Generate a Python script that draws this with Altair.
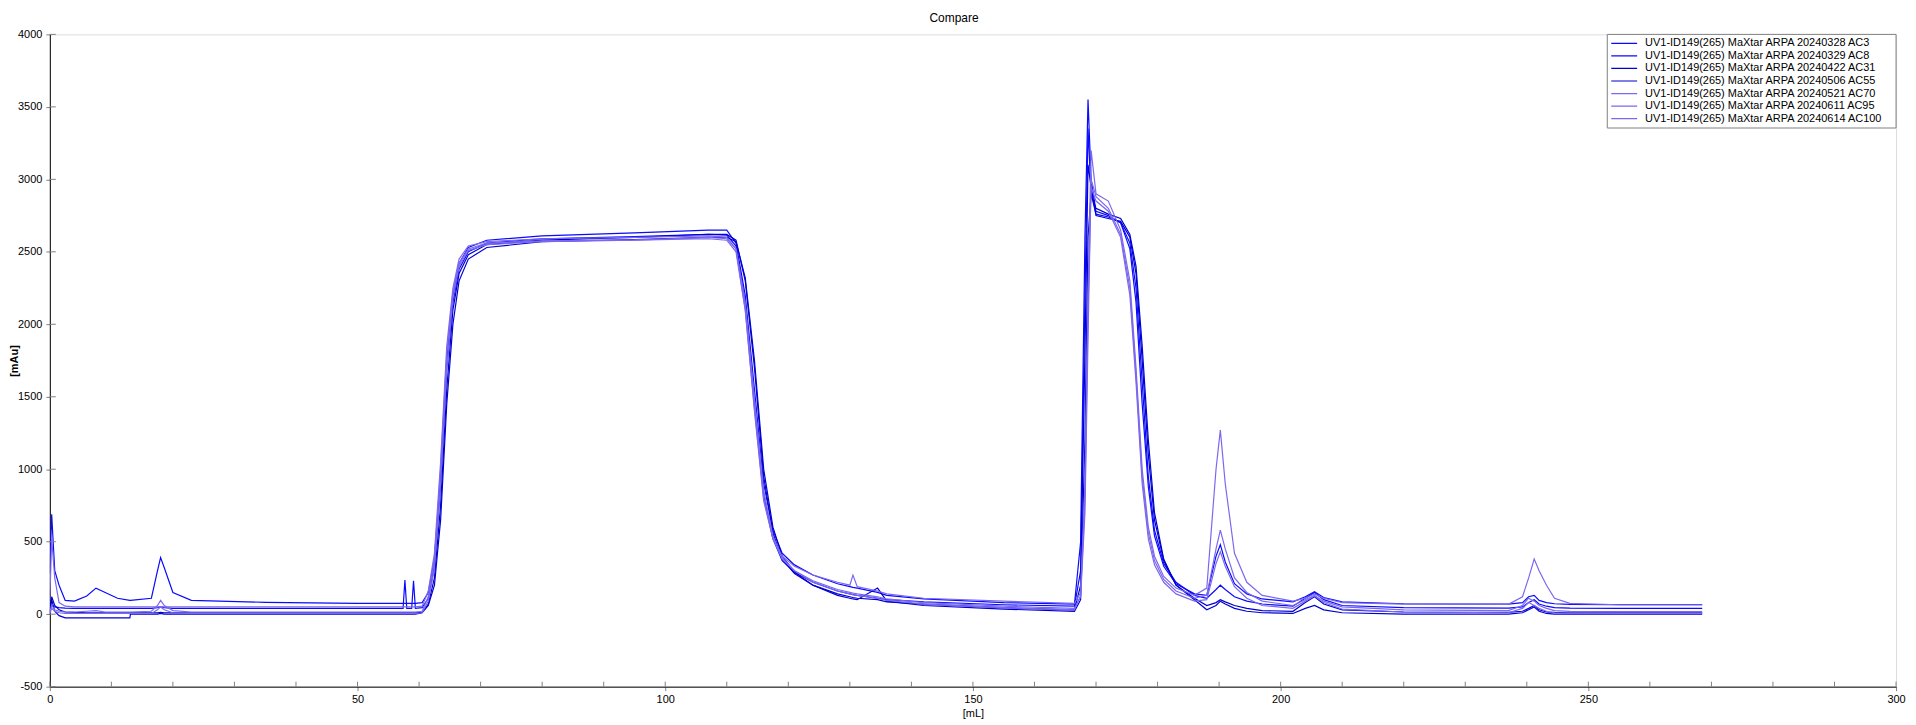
import altair as alt
import pandas as pd

TITLE = "Compare"
X_TITLE = "[mL]"
Y_TITLE = "[mAu]"
FONT = "Liberation Sans"

SERIES = [
    "UV1-ID149(265) MaXtar ARPA 20240328 AC3",
    "UV1-ID149(265) MaXtar ARPA 20240329 AC8",
    "UV1-ID149(265) MaXtar ARPA 20240422 AC31",
    "UV1-ID149(265) MaXtar ARPA 20240506 AC55",
    "UV1-ID149(265) MaXtar ARPA 20240521 AC70",
    "UV1-ID149(265) MaXtar ARPA 20240611 AC95",
    "UV1-ID149(265) MaXtar ARPA 20240614 AC100",
]
COLORS = ["#0a0aff", "#0a0aff", "#0000d0", "#0000d0", "#7b68ee", "#7b68ee", "#7b68ee"]

X_GRID = [
    0, 0.3, 0.8, 1.5, 2.5, 4, 6, 7.5, 9, 11,
    13, 13.1, 16.5, 17.5, 18, 18.6, 20, 23, 35, 50,
    57.4, 57.7, 58.0, 58.8, 59.1, 59.4, 60.5, 61.5, 62.5, 63.5,
    64.5, 65.5, 66.5, 68, 71, 80, 95, 107, 110, 111.5,
    113, 114.5, 116, 117.5, 119, 121, 124, 128, 130, 130.5,
    131.2, 134.5, 136, 142, 155, 166.5, 167.5, 168.2, 168.7, 169.2,
    170, 172, 174, 175.5, 176.5, 177.5, 178.5, 179.5, 181, 183,
    186, 188, 189.5, 190.2, 191, 192.5, 194.5, 197, 202, 204,
    205.5, 207, 210, 220, 237, 239.3, 240.3, 241.2, 242, 243.2,
    244.5, 247, 255, 268.5,
]

Y_AC3 = [
    280, 690, 300, 200, 95, 90, 125, 180, 150, 110,
    95, 95, 110, 300, 390, 320, 150, 95, 82, 75,
    75, 75, 75, 75, 75, 75, 80, 150, 380, 950,
    1750, 2200, 2420, 2530, 2580, 2610, 2630, 2650, 2650, 2560,
    2200, 1550, 900, 580, 420, 340, 270, 210, 190, 185,
    180, 150, 130, 105, 80, 70, 500, 2600, 3550, 3000,
    2780, 2750, 2700, 2520, 2150, 1450, 880, 540, 330, 210,
    140, 130, 400, 480, 360, 210, 140, 105, 85, 120,
    155, 115, 85, 72, 70, 80, 120, 130, 95, 80,
    72, 68, 66, 66,
]
Y_AC8 = [
    40, 60, 50, 45, 42, 40, 40, 40, 40, 40,
    40, 40, 40, 45, 50, 45, 40, 40, 40, 40,
    40, 235, 40, 40, 230, 40, 45, 110, 330, 900,
    1700, 2150, 2380, 2500, 2560, 2590, 2605, 2620, 2615, 2540,
    2150, 1450, 820, 520, 370, 290, 220, 160, 140, 135,
    130, 110, 100, 85, 65, 55, 300, 2200, 3350, 2900,
    2760, 2740, 2700, 2560, 2250, 1600, 950, 580, 350, 220,
    130, 110, 170, 200, 170, 120, 90, 70, 55, 110,
    150, 100, 60, 45, 42, 50, 80, 100, 70, 55,
    45, 42, 40, 40,
]
Y_AC31 = [
    10, 120, 60, 30, 15, 12, 10, 10, 10, 10,
    10, 10, 10, 10, 12, 10, 10, 10, 10, 10,
    10, 10, 10, 10, 10, 10, 12, 70, 250, 750,
    1550, 2100, 2350, 2480, 2550, 2580, 2600, 2620, 2620, 2580,
    2300, 1700, 950, 560, 380, 280, 200, 140, 120, 115,
    110, 100, 85, 70, 45, 30, 200, 1800, 3100, 2950,
    2750, 2730, 2710, 2600, 2350, 1750, 1100, 650, 370, 200,
    110, 60, 80, 100, 85, 60, 40, 25, 20, 80,
    120, 70, 30, 15, 12, 20, 40, 60, 30, 15,
    12, 10, 10, 10,
]
Y_AC55 = [
    0, 100, 20, -10, -25, -25, -25, -25, -25, -25,
    -25, 0, 0, 0, 5, 0, 0, 0, 0, 0,
    0, 0, 0, 0, 0, 0, 10, 60, 200, 650,
    1450, 2000, 2300, 2450, 2530, 2570, 2585, 2600, 2600, 2570,
    2320, 1750, 1000, 600, 400, 290, 200, 130, 110, 105,
    100, 180, 90, 60, 35, 20, 100, 1200, 2600, 2900,
    2800, 2760, 2730, 2620, 2400, 1850, 1200, 700, 380, 200,
    100, 30, 60, 90, 70, 40, 20, 10, 5, 40,
    60, 30, 10, 0, 0, 10, 30, 50, 20, 5,
    0, 0, 0, 0,
]
Y_AC70 = [
    100, 520, 250, 80, 55, 50, 50, 50, 50, 50,
    50, 50, 50, 50, 52, 50, 50, 50, 50, 50,
    50, 50, 50, 50, 50, 50, 55, 160, 420, 1050,
    1850, 2250, 2450, 2540, 2570, 2590, 2600, 2610, 2600, 2520,
    2100, 1400, 780, 520, 400, 330, 270, 220, 200, 270,
    190, 160, 140, 110, 90, 75, 150, 900, 2200, 3200,
    2900, 2850, 2650, 2300, 1700, 1000, 600, 400, 260, 180,
    130, 180, 1000, 1270, 900, 420, 220, 130, 90, 110,
    140, 110, 80, 70, 68, 120, 250, 380, 300, 200,
    110, 75, 65, 65,
]
Y_AC95 = [
    15, 60, 30, 20, 15, 15, 20, 25, 15, 15,
    15, 15, 20, 60, 95, 60, 25, 15, 15, 15,
    15, 15, 15, 15, 15, 15, 20, 120, 380, 1000,
    1800, 2220, 2420, 2520, 2560, 2575, 2580, 2590, 2580, 2500,
    2100, 1420, 800, 520, 380, 300, 230, 170, 150, 145,
    140, 120, 105, 80, 55, 40, 120, 700, 1900, 3000,
    2880, 2800, 2620, 2250, 1650, 950, 560, 370, 240, 160,
    110, 130, 450, 580, 450, 250, 150, 90, 60, 100,
    130, 90, 50, 30, 25, 60, 110, 90, 60, 40,
    25, 20, 18, 18,
]
Y_AC100 = [
    5, 40, 20, 10, 5, 5, 5, 5, 5, 5,
    5, 5, 5, 30, 50, 30, 10, 5, 5, 5,
    5, 5, 5, 5, 5, 5, 10, 90, 320, 900,
    1700, 2180, 2400, 2510, 2550, 2570, 2580, 2600, 2590, 2520,
    2150, 1480, 850, 540, 390, 300, 220, 160, 140, 135,
    130, 110, 95, 70, 45, 30, 130, 800, 2100, 2950,
    2850, 2780, 2600, 2200, 1600, 900, 520, 340, 220, 140,
    90, 100, 350, 430, 330, 190, 110, 60, 40, 90,
    125, 80, 35, 15, 10, 40, 80, 60, 40, 20,
    10, 8, 5, 5,
]

Y_ALL = [Y_AC3, Y_AC8, Y_AC31, Y_AC55, Y_AC70, Y_AC95, Y_AC100]

X_TICKS = list(range(0, 301, 50))
X_SMALL_TICKS = list(range(0, 301, 10))
Y_TICKS = list(range(-500, 4001, 500))

rows = []
for name, ys in zip(SERIES, Y_ALL):
    assert len(ys) == len(X_GRID), name
    for xv, yv in zip(X_GRID, ys):
        rows.append({"x": xv, "y": yv, "series": name})
df = pd.DataFrame(rows)

W, H = 1854, 655
LEG_X, LEG_W, LEG_H = 1564, 290, 94

x_scale = alt.Scale(domain=[0, 300], nice=False, zero=False)
y_scale = alt.Scale(domain=[-500, 4000], nice=False, zero=False)

x_axis = alt.Axis(
    values=X_TICKS, title=X_TITLE, grid=False,
    domainColor="black", domainWidth=1, tickColor="#808080", tickSize=4,
    labelPadding=3, labelFont=FONT, labelFontSize=11, labelColor="black",
    labelFlush=False, labelOverlap=False, labelExpr="'' + datum.value",
    titleFont=FONT, titleFontSize=11, titleFontWeight="normal", titleColor="black",
    titleY=27, titleBaseline="middle",
)
y_axis = alt.Axis(
    values=Y_TICKS, title=Y_TITLE, grid=False,
    domainColor="black", domainWidth=1, tickColor="#808080", tickSize=4,
    labelPadding=4, labelFont=FONT, labelFontSize=11, labelColor="black",
    labelFlush=False, labelOverlap=False, labelExpr="'' + datum.value",
    titleFont=FONT, titleFontSize=11, titleFontWeight="bold", titleColor="black",
    titleAngle=270, titleX=-35, titleY=H / 2, titleAlign="center", titleBaseline="middle",
)

xenc = alt.X("x:Q", scale=x_scale, axis=x_axis)
yenc = alt.Y("y:Q", scale=y_scale, axis=y_axis)

lines = alt.Chart(df).mark_line(strokeWidth=1.2, clip=True).encode(
    x=xenc,
    y=yenc,
    color=alt.Color(
        "series:N",
        scale=alt.Scale(domain=SERIES, range=COLORS),
        legend=alt.Legend(
            title=None, orient="none", legendX=LEG_X, legendY=0, direction="vertical",
            symbolType="stroke", symbolSize=676, symbolStrokeWidth=1.2,
            labelFont=FONT, labelFontSize=11, labelColor="black", labelOffset=7,
            labelLimit=400, padding=3, rowPadding=0.6, clipHeight=12,
        ),
    ),
    order=alt.Order("x:Q"),
)

legend_box = alt.Chart(pd.DataFrame({"k": [0]})).mark_rect(
    fill="white", stroke="#808080", strokeWidth=1
).encode(
    x=alt.value(LEG_X), x2=alt.value(LEG_X + LEG_W),
    y=alt.value(0), y2=alt.value(LEG_H),
)

xticks_in = alt.Chart(pd.DataFrame({"x": X_SMALL_TICKS})).mark_rule(
    color="#808080", strokeWidth=1
).encode(x=xenc, y=alt.value(H), y2=alt.value(H - 5))

yticks_in = alt.Chart(pd.DataFrame({"y": Y_TICKS})).mark_rule(
    color="#808080", strokeWidth=1
).encode(y=yenc, x=alt.value(0), x2=alt.value(6))

title_text = alt.Chart(pd.DataFrame({"t": [TITLE]})).mark_text(
    font=FONT, fontSize=12, color="black", align="center", baseline="alphabetic"
).encode(x=alt.value(W / 2 - 19), y=alt.value(-12), text="t:N")

chart = alt.layer(lines, legend_box, xticks_in, yticks_in, title_text).properties(
    width=W,
    height=H,
    padding={"left": 42, "top": 25, "right": 12, "bottom": 36},
    autosize=alt.AutoSizeParams(type="none"),
).configure_view(stroke=None).configure(background="white")

chart.save("out.html", embed_options={"renderer": "svg", "actions": False})
